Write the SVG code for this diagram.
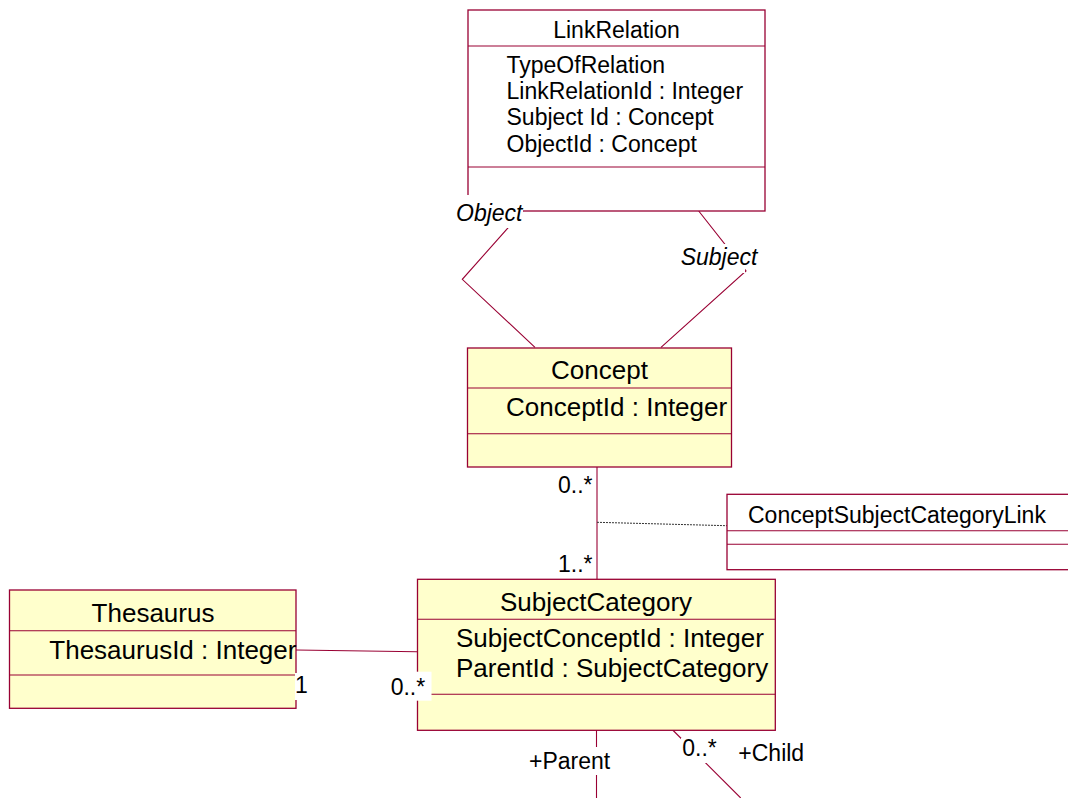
<svg xmlns="http://www.w3.org/2000/svg" width="1068" height="798" viewBox="0 0 1068 798">
  <style>
    .box { stroke: #990033; stroke-width: 1.3; }
    .plain { fill: #ffffff; }
    .yellow { fill: #ffffcc; }
    .sep { stroke: #990033; stroke-width: 1.1; }
    .assoc { fill: none; stroke: #990033; stroke-width: 1.1; }
    .dotted { fill: none; stroke: #333333; stroke-width: 1; stroke-dasharray: 2 1; }
    text { font-family: "Liberation Sans", Arial, sans-serif; fill: #000000; }
    .t23 { font-size: 23px; }
    .t26 { font-size: 26px; }
    .role { font-size: 23px; font-style: italic; }
    .mid { text-anchor: middle; }
    .bg { fill: #ffffff; }
  </style>

  <!-- connectors, drawn first so the role and multiplicity labels sit on top -->
  <g id="connectors">
    <!-- LinkRelation object / subject roles to Concept -->
    <polyline class="assoc" points="523,211 462.3,279.3 535,347.3"/>
    <polyline class="assoc" points="698.7,211 746,271 661,347.3"/>
    <!-- Concept to SubjectCategory with association class link -->
    <line class="assoc" x1="597" y1="467" x2="597" y2="579"/>
    <line class="dotted" x1="597" y1="522.3" x2="727" y2="525.7"/>
    <!-- Thesaurus to SubjectCategory -->
    <line class="assoc" x1="296" y1="650" x2="417" y2="651.7"/>
    <!-- SubjectCategory parent / child self association -->
    <line class="assoc" x1="596.5" y1="730" x2="596.5" y2="798"/>
    <line class="assoc" x1="672.7" y1="730" x2="740.7" y2="798"/>
  </g>

  <g id="LinkRelation">
    <rect class="box plain" x="468" y="10" width="297" height="201"/>
    <line class="sep" x1="468" y1="46" x2="765" y2="46"/>
    <line class="sep" x1="468" y1="167" x2="765" y2="167"/>
    <text class="t23 mid" x="616.5" y="38">LinkRelation</text>
    <text class="t23" x="506.5" y="72.5">TypeOfRelation</text>
    <text class="t23" x="506.5" y="99">LinkRelationId : Integer</text>
    <text class="t23" x="506.5" y="125.3">Subject Id : Concept</text>
    <text class="t23" x="506.5" y="151.7">ObjectId : Concept</text>
  </g>

  <g id="Concept">
    <rect class="box yellow" x="467.5" y="348" width="264" height="119"/>
    <line class="sep" x1="467.5" y1="388" x2="731.5" y2="388"/>
    <line class="sep" x1="467.5" y1="433.7" x2="731.5" y2="433.7"/>
    <text class="t26 mid" x="599.5" y="379">Concept</text>
    <text class="t26" x="506" y="416">ConceptId : Integer</text>
  </g>

  <g id="ConceptSubjectCategoryLink">
    <rect class="box plain" x="727" y="494.3" width="360" height="75.4"/>
    <line class="sep" x1="727" y1="530.7" x2="1087" y2="530.7"/>
    <line class="sep" x1="727" y1="544.3" x2="1087" y2="544.3"/>
    <text class="t23" x="748" y="522.7">ConceptSubjectCategoryLink</text>
  </g>

  <g id="Thesaurus">
    <rect class="box yellow" x="9.5" y="590" width="286.5" height="118.3"/>
    <line class="sep" x1="9.5" y1="630.7" x2="296" y2="630.7"/>
    <line class="sep" x1="9.5" y1="675" x2="296" y2="675"/>
    <text class="t26 mid" x="153" y="621.7">Thesaurus</text>
    <text class="t26" x="49.3" y="659">ThesaurusId : Integer</text>
  </g>

  <g id="SubjectCategory">
    <rect class="box yellow" x="417.5" y="579.3" width="357.8" height="151"/>
    <line class="sep" x1="417.5" y1="619.3" x2="775.3" y2="619.3"/>
    <line class="sep" x1="417.5" y1="694.3" x2="775.3" y2="694.3"/>
    <text class="t26 mid" x="596" y="610.7">SubjectCategory</text>
    <text class="t26" x="456" y="647.3">SubjectConceptId : Integer</text>
    <text class="t26" x="456" y="677.3">ParentId : SubjectCategory</text>
  </g>

  <!-- role names and multiplicities, each on a white backing -->
  <g id="labels">
    <rect class="bg" x="455" y="195" width="68" height="33"/>
    <text class="role" x="456" y="220.7">Object</text>

    <rect class="bg" x="679" y="244" width="66" height="29"/>
    <text class="role" x="680.7" y="265">Subject</text>

    <text class="t23" x="558" y="493">0..*</text>
    <text class="t23" x="558" y="571.7">1..*</text>

    <rect class="bg" x="295" y="673" width="10" height="27"/>
    <text class="t23" x="295" y="693.3">1</text>

    <rect class="bg" x="389" y="671.7" width="42.5" height="29"/>
    <text class="t23" x="390.7" y="695">0..*</text>

    <rect class="bg" x="528" y="747" width="86" height="28"/>
    <text class="t23" x="529" y="769">+Parent</text>

    <rect class="bg" x="681" y="738" width="38" height="25"/>
    <text class="t23" x="682.3" y="755.7">0..*</text>
    <text class="t23" x="738.3" y="760.7">+Child</text>
  </g>
</svg>
